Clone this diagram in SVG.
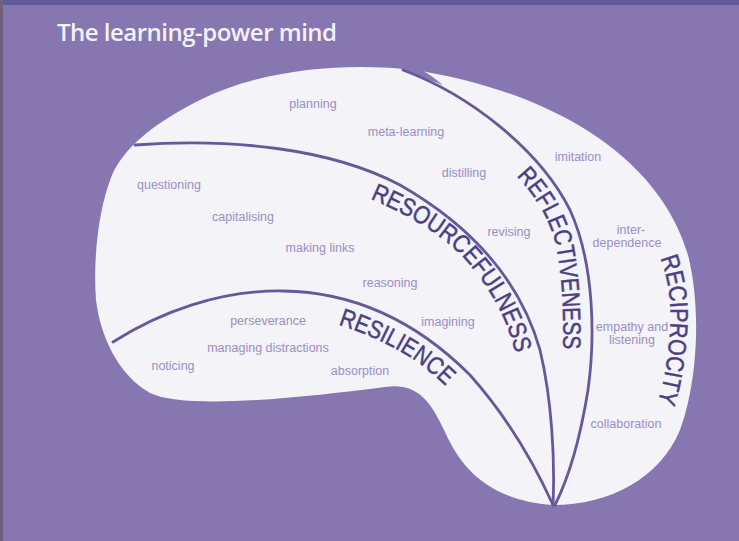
<svg xmlns="http://www.w3.org/2000/svg" width="739" height="541" viewBox="0 0 739 541">
<style>
.bg{fill:#8677b0}
.brain{fill:#f4f3f8}
.div{fill:none;stroke:#67589a;stroke-width:2.8;stroke-linecap:round}
.lbl{font-family:"Liberation Sans",Arial,sans-serif;font-size:12.5px;fill:#9a8ec4;text-anchor:middle}
.big{font-family:"Liberation Sans",Arial,sans-serif;font-size:25px;fill:#4b3f84;stroke:#4b3f84;stroke-width:0.5}
.title{font-family:"Open Sans","Liberation Sans",sans-serif;font-size:24px;font-weight:600;fill:#f3f1f8}
</style>
<defs>
<path id="pRes" d="M 320,319 C 360,330 400,348 425,368 C 445,384 460,400 472,417"/>
<path id="pResf" d="M 330,184 C 380,200 440,228 470,265 C 495,295 510,325 518,365"/>
<path id="pRefl" d="M 505,165 C 530,188 550,215 557,250 C 563,285 564,320 563,360"/>
<path id="pRecip" d="M 645,230 C 668,262 672,300 670,330 C 668,365 662,390 655,412"/>
</defs>
<g id="background">
<rect class="bg" x="0" y="0" width="739" height="541"/>
<rect x="0" y="0" width="739" height="5" fill="#5f5a98"/>
<rect x="0" y="0" width="3" height="541" fill="#6f5f7c"/>
</g>
<g id="title"><text class="title" x="57" y="41" textLength="280">The learning-power mind</text></g>
<g id="brain">
<path class="brain" d="M 403,69 C 340,63 260,70 200,100 C 160,120 125,145 112,175 C 98,210 93,260 96,300 C 100,335 118,375 150,393 C 185,410 300,398 385,387 C 420,382 432,405 445,432 C 462,470 490,500 553,505 C 610,505 660,478 680,430 C 697,385 702,310 688,255 C 660,160 560,95 421,71 Z"/>
<path class="bg" d="M 402,68 L 422,70 Q 432,76 443,85 L 403,70 Z"/>
</g>
<g id="connectors">
<path class="div" d="M 113,342 C 160,312 220,290 283,291 C 360,292 420,325 470,375 C 510,420 535,465 553,505"/>
<path class="div" d="M 135,145 C 230,138 330,148 400,185 C 470,225 520,280 540,350 C 552,400 555,460 553,505"/>
<path class="div" d="M 403,70 C 470,95 540,150 570,210 C 595,265 595,340 588,390 C 580,440 570,475 555,505"/>
</g>
<g id="resilience">
<text class="big"><textPath href="#pRes" startOffset="19" textLength="125" lengthAdjust="spacingAndGlyphs">RESILIENCE</textPath></text>
<text class="lbl" x="268" y="325">perseverance</text>
<text class="lbl" x="268" y="352">managing distractions</text>
<text class="lbl" x="173" y="370">noticing</text>
<text class="lbl" x="360" y="375">absorption</text>
</g>
<g id="resourcefulness">
<text class="big"><textPath href="#pResf" startOffset="43" textLength="221" lengthAdjust="spacingAndGlyphs">RESOURCEFULNESS</textPath></text>
<text class="lbl" x="169" y="189">questioning</text>
<text class="lbl" x="243" y="221">capitalising</text>
<text class="lbl" x="320" y="252">making links</text>
<text class="lbl" x="390" y="287">reasoning</text>
<text class="lbl" x="448" y="326">imagining</text>
</g>
<g id="reflectiveness">
<text class="big"><textPath href="#pRefl" startOffset="16" textLength="185" lengthAdjust="spacingAndGlyphs">REFLECTIVENESS</textPath></text>
<text class="lbl" x="313" y="108">planning</text>
<text class="lbl" x="406" y="136">meta-learning</text>
<text class="lbl" x="464" y="177">distilling</text>
<text class="lbl" x="509" y="236">revising</text>
</g>
<g id="reciprocity">
<text class="big"><textPath href="#pRecip" startOffset="32" textLength="147" lengthAdjust="spacingAndGlyphs">RECIPROCITY</textPath></text>
<text class="lbl" x="578" y="161">imitation</text>
<text class="lbl" x="631" y="234">inter-</text>
<text class="lbl" x="627" y="247">dependence</text>
<text class="lbl" x="632" y="331">empathy and</text>
<text class="lbl" x="632" y="344">listening</text>
<text class="lbl" x="626" y="428">collaboration</text>
</g>
</svg>
